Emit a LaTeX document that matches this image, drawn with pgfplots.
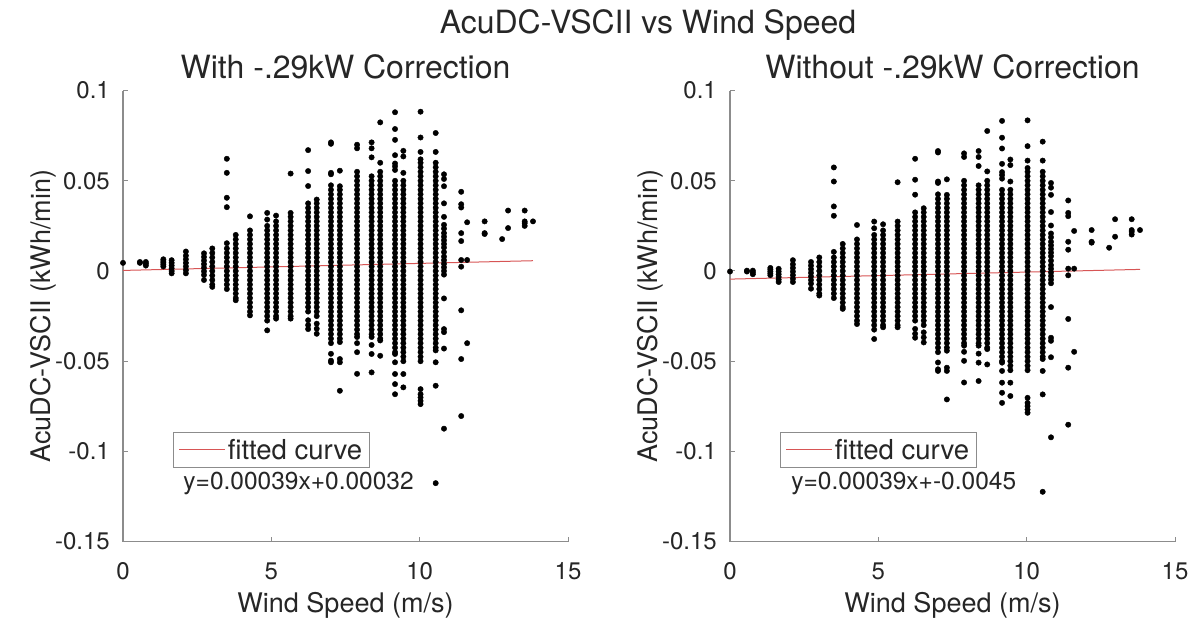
\documentclass[border=0pt]{standalone}
\usepackage{pgfplots}
\pgfplotsset{compat=1.18}
\usepackage{pgfplotstable}
\usepackage{fontspec}
\setmainfont{TeX Gyre Heros}
\definecolor{axgray}{RGB}{140,140,140}
\definecolor{txt}{RGB}{38,38,38}
\definecolor{fitred}{RGB}{215,85,85}

% With -.29kW correction
\pgfplotstableread[row sep=\\]{
x y\\
0 0.0045\\
0.57 0.005\\0.57 0.0045\\
0.77 0.005\\0.77 0.004\\0.77 0.003\\
1.36 0.0065\\1.36 0.0055\\1.36 0.0045\\1.36 0.0035\\1.36 0.0025\\
1.64 0.006\\1.64 0.0045\\1.64 0.003\\1.64 0.0015\\1.64 0\\1.64 -0.0013\\
2.12 0.0108\\2.12 0.0085\\2.12 0.0065\\2.12 0.0045\\2.12 0.0025\\2.12 0.0005\\2.12 -0.0013\\
2.73 0.0098\\2.73 0.0078\\2.73 0.0058\\2.73 0.0038\\2.73 0.0018\\2.73 -0.0002\\2.73 -0.0022\\2.73 -0.005\\
3.01 0.0125\\3.01 0.01\\3.01 0.0075\\3.01 0.005\\3.01 0.0025\\3.01 0\\3.01 -0.0025\\3.01 -0.005\\3.01 -0.0075\\3.01 -0.0088\\
3.5 0.0622\\3.5 0.0544\\3.5 0.0406\\3.5 0.0354\\3.5 0.0154\\3.5 0.0125\\3.5 0.01\\3.5 0.0075\\3.5 0.005\\3.5 0.0025\\3.5 0\\3.5 -0.0025\\3.5 -0.005\\3.5 -0.0075\\3.5 -0.01\\
3.8 0.02\\3.8 0.0175\\3.8 0.015\\3.8 0.0125\\3.8 0.01\\3.8 0.0075\\3.8 0.005\\3.8 0.0025\\3.8 0\\3.8 -0.0025\\3.8 -0.005\\3.8 -0.0075\\3.8 -0.01\\3.8 -0.0125\\3.8 -0.015\\3.8 -0.0162\\
4.28 0.0303\\4.28 0.0225\\4.28 0.02\\4.28 0.0175\\4.28 0.015\\4.28 0.0125\\4.28 0.01\\4.28 0.0075\\4.28 0.005\\4.28 0.0025\\4.28 0\\4.28 -0.0025\\4.28 -0.005\\4.28 -0.0075\\4.28 -0.01\\4.28 -0.0125\\4.28 -0.015\\4.28 -0.0175\\4.28 -0.02\\4.28 -0.0225\\4.28 -0.0246\\
4.86 0.0322\\4.86 0.0285\\4.86 0.025\\4.86 0.0225\\4.86 0.02\\4.86 0.0175\\4.86 0.015\\4.86 0.0125\\4.86 0.01\\4.86 0.0075\\4.86 0.005\\4.86 0.0025\\4.86 0\\4.86 -0.0025\\4.86 -0.005\\4.86 -0.0075\\4.86 -0.01\\4.86 -0.0125\\4.86 -0.015\\4.86 -0.0175\\4.86 -0.02\\4.86 -0.0225\\4.86 -0.025\\4.86 -0.0275\\4.86 -0.0329\\
5.16 0.0307\\5.16 0.0275\\5.16 0.025\\5.16 0.0225\\5.16 0.02\\5.16 0.0175\\5.16 0.015\\5.16 0.0125\\5.16 0.01\\5.16 0.0075\\5.16 0.005\\5.16 0.0025\\5.16 0\\5.16 -0.0025\\5.16 -0.005\\5.16 -0.0075\\5.16 -0.01\\5.16 -0.0125\\5.16 -0.015\\5.16 -0.0175\\5.16 -0.02\\5.16 -0.0225\\5.16 -0.025\\5.16 -0.0264\\
5.65 0.054\\5.65 0.0322\\5.65 0.03\\5.65 0.0275\\5.65 0.025\\5.65 0.0225\\5.65 0.02\\5.65 0.0175\\5.65 0.015\\5.65 0.0125\\5.65 0.01\\5.65 0.0075\\5.65 0.005\\5.65 0.0025\\5.65 0\\5.65 -0.0025\\5.65 -0.005\\5.65 -0.0075\\5.65 -0.01\\5.65 -0.0125\\5.65 -0.015\\5.65 -0.0175\\5.65 -0.02\\5.65 -0.0225\\5.65 -0.025\\5.65 -0.0264\\
6.24 0.067\\6.24 0.0554\\6.24 0.0471\\6.24 0.0375\\6.24 0.035\\6.24 0.0325\\6.24 0.03\\6.24 0.0275\\6.24 0.025\\6.24 0.0225\\6.24 0.02\\6.24 0.0175\\6.24 0.015\\6.24 0.0125\\6.24 0.01\\6.24 0.0075\\6.24 0.005\\6.24 0.0025\\6.24 0\\6.24 -0.0025\\6.24 -0.005\\6.24 -0.0075\\6.24 -0.01\\6.24 -0.0125\\6.24 -0.015\\6.24 -0.0175\\6.24 -0.02\\6.24 -0.0225\\6.24 -0.0273\\6.24 -0.03\\6.24 -0.0322\\
6.53 0.0396\\6.53 0.0375\\6.53 0.035\\6.53 0.0325\\6.53 0.03\\6.53 0.0275\\6.53 0.025\\6.53 0.0225\\6.53 0.02\\6.53 0.0175\\6.53 0.015\\6.53 0.0125\\6.53 0.01\\6.53 0.0075\\6.53 0.005\\6.53 0.0025\\6.53 0\\6.53 -0.0025\\6.53 -0.005\\6.53 -0.0075\\6.53 -0.01\\6.53 -0.0125\\6.53 -0.015\\6.53 -0.0175\\6.53 -0.02\\6.53 -0.0225\\6.53 -0.025\\6.53 -0.0292\\6.53 -0.032\\6.53 -0.0348\\
7.01 0.0713\\7.01 0.0705\\7.01 0.0544\\7.01 0.0536\\7.01 0.0475\\7.01 0.045\\7.01 0.0425\\7.01 0.04\\7.01 0.0375\\7.01 0.035\\7.01 0.0325\\7.01 0.03\\7.01 0.0275\\7.01 0.025\\7.01 0.0225\\7.01 0.02\\7.01 0.0175\\7.01 0.015\\7.01 0.0125\\7.01 0.01\\7.01 0.0075\\7.01 0.005\\7.01 0.0025\\7.01 0\\7.01 -0.0025\\7.01 -0.005\\7.01 -0.0075\\7.01 -0.01\\7.01 -0.0125\\7.01 -0.015\\7.01 -0.0175\\7.01 -0.02\\7.01 -0.0225\\7.01 -0.025\\7.01 -0.0275\\7.01 -0.03\\7.01 -0.0325\\7.01 -0.035\\7.01 -0.0375\\7.01 -0.04\\7.01 -0.0459\\7.01 -0.0497\\7.01 -0.0506\\
7.31 0.0556\\7.31 0.047\\7.31 0.045\\7.31 0.0425\\7.31 0.04\\7.31 0.0375\\7.31 0.035\\7.31 0.0325\\7.31 0.03\\7.31 0.0275\\7.31 0.025\\7.31 0.0225\\7.31 0.02\\7.31 0.0175\\7.31 0.015\\7.31 0.0125\\7.31 0.01\\7.31 0.0075\\7.31 0.005\\7.31 0.0025\\7.31 0\\7.31 -0.0025\\7.31 -0.005\\7.31 -0.0075\\7.31 -0.01\\7.31 -0.0125\\7.31 -0.015\\7.31 -0.0175\\7.31 -0.02\\7.31 -0.0225\\7.31 -0.025\\7.31 -0.0275\\7.31 -0.03\\7.31 -0.0325\\7.31 -0.035\\7.31 -0.0375\\7.31 -0.0394\\7.31 -0.0488\\7.31 -0.0506\\7.31 -0.0664\\
7.89 0.07\\7.89 0.068\\7.89 0.055\\7.89 0.0525\\7.89 0.05\\7.89 0.0475\\7.89 0.045\\7.89 0.0425\\7.89 0.04\\7.89 0.0375\\7.89 0.035\\7.89 0.0325\\7.89 0.03\\7.89 0.0275\\7.89 0.025\\7.89 0.0225\\7.89 0.02\\7.89 0.0175\\7.89 0.015\\7.89 0.0125\\7.89 0.01\\7.89 0.0075\\7.89 0.005\\7.89 0.0025\\7.89 0\\7.89 -0.0025\\7.89 -0.005\\7.89 -0.0075\\7.89 -0.01\\7.89 -0.0125\\7.89 -0.015\\7.89 -0.0175\\7.89 -0.02\\7.89 -0.0225\\7.89 -0.025\\7.89 -0.0275\\7.89 -0.03\\7.89 -0.0325\\7.89 -0.035\\7.89 -0.0366\\7.89 -0.04\\7.89 -0.045\\7.89 -0.057\\
8.38 0.0713\\8.38 0.068\\8.38 0.063\\8.38 0.0525\\8.38 0.05\\8.38 0.0475\\8.38 0.045\\8.38 0.0425\\8.38 0.04\\8.38 0.0375\\8.38 0.035\\8.38 0.0325\\8.38 0.03\\8.38 0.0275\\8.38 0.025\\8.38 0.0225\\8.38 0.02\\8.38 0.0175\\8.38 0.015\\8.38 0.0125\\8.38 0.01\\8.38 0.0075\\8.38 0.005\\8.38 0.0025\\8.38 0\\8.38 -0.0025\\8.38 -0.005\\8.38 -0.0075\\8.38 -0.01\\8.38 -0.0125\\8.38 -0.015\\8.38 -0.0175\\8.38 -0.02\\8.38 -0.0225\\8.38 -0.025\\8.38 -0.0275\\8.38 -0.03\\8.38 -0.0325\\8.38 -0.035\\8.38 -0.0366\\8.38 -0.041\\8.38 -0.046\\8.38 -0.0562\\
8.67 0.0824\\8.67 0.06\\8.67 0.055\\8.67 0.0525\\8.67 0.05\\8.67 0.0475\\8.67 0.045\\8.67 0.0425\\8.67 0.04\\8.67 0.0375\\8.67 0.035\\8.67 0.0325\\8.67 0.03\\8.67 0.0275\\8.67 0.025\\8.67 0.0225\\8.67 0.02\\8.67 0.0175\\8.67 0.015\\8.67 0.0125\\8.67 0.01\\8.67 0.0075\\8.67 0.005\\8.67 0.0025\\8.67 0\\8.67 -0.0025\\8.67 -0.005\\8.67 -0.0075\\8.67 -0.01\\8.67 -0.0125\\8.67 -0.015\\8.67 -0.0175\\8.67 -0.02\\8.67 -0.0225\\8.67 -0.025\\8.67 -0.0275\\8.67 -0.03\\8.67 -0.0325\\8.67 -0.035\\8.67 -0.0375\\8.67 -0.0385\\8.67 -0.047\\
9.17 0.088\\9.17 0.0787\\9.17 0.0727\\9.17 0.0642\\9.17 0.0596\\9.17 0.058\\9.17 0.056\\9.17 0.05\\9.17 0.0475\\9.17 0.045\\9.17 0.0425\\9.17 0.04\\9.17 0.0375\\9.17 0.035\\9.17 0.0325\\9.17 0.03\\9.17 0.0275\\9.17 0.025\\9.17 0.0225\\9.17 0.02\\9.17 0.0175\\9.17 0.015\\9.17 0.0125\\9.17 0.01\\9.17 0.0075\\9.17 0.005\\9.17 0.0025\\9.17 0\\9.17 -0.0025\\9.17 -0.005\\9.17 -0.0075\\9.17 -0.01\\9.17 -0.0125\\9.17 -0.015\\9.17 -0.0175\\9.17 -0.02\\9.17 -0.0225\\9.17 -0.025\\9.17 -0.0275\\9.17 -0.03\\9.17 -0.0325\\9.17 -0.035\\9.17 -0.0375\\9.17 -0.04\\9.17 -0.0425\\9.17 -0.045\\9.17 -0.046\\9.17 -0.0506\\9.17 -0.0571\\9.17 -0.0627\\9.17 -0.0683\\
9.45 0.0666\\9.45 0.0635\\9.45 0.0544\\9.45 0.05\\9.45 0.0475\\9.45 0.045\\9.45 0.0425\\9.45 0.04\\9.45 0.0375\\9.45 0.035\\9.45 0.0325\\9.45 0.03\\9.45 0.0275\\9.45 0.025\\9.45 0.0225\\9.45 0.02\\9.45 0.0175\\9.45 0.015\\9.45 0.0125\\9.45 0.01\\9.45 0.0075\\9.45 0.005\\9.45 0.0025\\9.45 0\\9.45 -0.0025\\9.45 -0.005\\9.45 -0.0075\\9.45 -0.01\\9.45 -0.0125\\9.45 -0.015\\9.45 -0.0175\\9.45 -0.02\\9.45 -0.0225\\9.45 -0.025\\9.45 -0.0275\\9.45 -0.03\\9.45 -0.0325\\9.45 -0.035\\9.45 -0.0375\\9.45 -0.04\\9.45 -0.0425\\9.45 -0.045\\9.45 -0.0475\\9.45 -0.05\\9.45 -0.0571\\9.45 -0.0645\\
10.03 0.0883\\10.03 0.074\\10.03 0.066\\10.03 0.0619\\10.03 0.06\\10.03 0.0575\\10.03 0.055\\10.03 0.0525\\10.03 0.05\\10.03 0.0475\\10.03 0.045\\10.03 0.0425\\10.03 0.04\\10.03 0.0375\\10.03 0.035\\10.03 0.0325\\10.03 0.03\\10.03 0.0275\\10.03 0.025\\10.03 0.0225\\10.03 0.02\\10.03 0.0175\\10.03 0.015\\10.03 0.0125\\10.03 0.01\\10.03 0.0075\\10.03 0.005\\10.03 0.0025\\10.03 0\\10.03 -0.0025\\10.03 -0.005\\10.03 -0.0075\\10.03 -0.01\\10.03 -0.0125\\10.03 -0.015\\10.03 -0.0175\\10.03 -0.02\\10.03 -0.0225\\10.03 -0.025\\10.03 -0.0275\\10.03 -0.03\\10.03 -0.0325\\10.03 -0.035\\10.03 -0.0375\\10.03 -0.04\\10.03 -0.0425\\10.03 -0.045\\10.03 -0.0475\\10.03 -0.05\\10.03 -0.0655\\10.03 -0.0683\\10.03 -0.0701\\10.03 -0.072\\10.03 -0.0738\\
10.54 0.0765\\10.54 0.066\\10.54 0.06\\10.54 0.0575\\10.54 0.055\\10.54 0.0525\\10.54 0.05\\10.54 0.0475\\10.54 0.045\\10.54 0.0425\\10.54 0.04\\10.54 0.0375\\10.54 0.035\\10.54 0.0325\\10.54 0.03\\10.54 0.0275\\10.54 0.025\\10.54 0.0225\\10.54 0.02\\10.54 0.0175\\10.54 0.015\\10.54 0.0125\\10.54 0.01\\10.54 0.0075\\10.54 0.005\\10.54 0.0025\\10.54 0\\10.54 -0.0025\\10.54 -0.005\\10.54 -0.0075\\10.54 -0.01\\10.54 -0.0125\\10.54 -0.015\\10.54 -0.0175\\10.54 -0.02\\10.54 -0.0225\\10.54 -0.025\\10.54 -0.0275\\10.54 -0.03\\10.54 -0.0325\\10.54 -0.035\\10.54 -0.0375\\10.54 -0.04\\10.54 -0.0425\\10.54 -0.044\\10.54 -0.0506\\10.54 -0.0636\\10.54 -0.1176\\
10.82 0.0536\\10.82 0.051\\10.82 0.047\\10.82 0.0375\\10.82 0.03\\10.82 0.0256\\10.82 0.0235\\10.82 0.021\\10.82 0.019\\10.82 0.017\\10.82 0.015\\10.82 0.013\\10.82 0.0105\\10.82 0.008\\10.82 0.006\\10.82 0.004\\10.82 0.002\\10.82 0\\10.82 -0.002\\10.82 -0.0152\\10.82 -0.0322\\10.82 -0.0339\\10.82 -0.043\\10.82 -0.0874\\
11.4 0.0439\\11.4 0.037\\11.4 0.0352\\11.4 0.021\\11.4 0.0166\\11.4 0.0061\\11.4 0.0024\\11.4 -0.0218\\11.4 -0.0488\\11.4 -0.0804\\
11.6 0.027\\11.6 0.0061\\11.6 -0.04\\
12.19 0.0275\\12.19 0.021\\12.19 0.0205\\
12.78 0.0177\\
12.98 0.0335\\12.98 0.0238\\
13.54 0.0335\\13.54 0.0275\\13.54 0.0265\\13.54 0.025\\
13.82 0.0275\\
}\leftdata

% Without -.29kW correction
\pgfplotstableread[row sep=\\]{
x y\\
0 -0.0003\\
0.57 0.0002\\0.57 -0.0003\\
0.77 0.0002\\0.77 -0.0008\\0.77 -0.0018\\
1.36 0.0017\\1.36 0.0007\\1.36 -0.0003\\1.36 -0.0013\\1.36 -0.0023\\
1.64 0.0012\\1.64 -0.0003\\1.64 -0.0018\\1.64 -0.0033\\1.64 -0.0048\\1.64 -0.0061\\
2.12 0.006\\2.12 0.0037\\2.12 0.0017\\2.12 -0.0003\\2.12 -0.0023\\2.12 -0.0043\\2.12 -0.0061\\
2.73 0.005\\2.73 0.003\\2.73 0.001\\2.73 -0.001\\2.73 -0.003\\2.73 -0.005\\2.73 -0.007\\2.73 -0.0098\\
3.01 0.0075\\3.01 0.005\\3.01 0.0025\\3.01 0\\3.01 -0.0025\\3.01 -0.005\\3.01 -0.0075\\3.01 -0.01\\3.01 -0.0125\\3.01 -0.0136\\
3.5 0.0574\\3.5 0.0496\\3.5 0.0358\\3.5 0.0306\\3.5 0.0106\\3.5 0.0075\\3.5 0.005\\3.5 0.0025\\3.5 0\\3.5 -0.0025\\3.5 -0.005\\3.5 -0.0075\\3.5 -0.01\\3.5 -0.0125\\3.5 -0.015\\
3.8 0.015\\3.8 0.0125\\3.8 0.01\\3.8 0.0075\\3.8 0.005\\3.8 0.0025\\3.8 0\\3.8 -0.0025\\3.8 -0.005\\3.8 -0.0075\\3.8 -0.01\\3.8 -0.0125\\3.8 -0.015\\3.8 -0.0175\\3.8 -0.02\\3.8 -0.021\\
4.28 0.0255\\4.28 0.0175\\4.28 0.015\\4.28 0.0125\\4.28 0.01\\4.28 0.0075\\4.28 0.005\\4.28 0.0025\\4.28 0\\4.28 -0.0025\\4.28 -0.005\\4.28 -0.0075\\4.28 -0.01\\4.28 -0.0125\\4.28 -0.015\\4.28 -0.0175\\4.28 -0.02\\4.28 -0.0225\\4.28 -0.025\\4.28 -0.0275\\4.28 -0.0294\\
4.86 0.0274\\4.86 0.0237\\4.86 0.02\\4.86 0.0175\\4.86 0.015\\4.86 0.0125\\4.86 0.01\\4.86 0.0075\\4.86 0.005\\4.86 0.0025\\4.86 0\\4.86 -0.0025\\4.86 -0.005\\4.86 -0.0075\\4.86 -0.01\\4.86 -0.0125\\4.86 -0.015\\4.86 -0.0175\\4.86 -0.02\\4.86 -0.0225\\4.86 -0.025\\4.86 -0.0275\\4.86 -0.03\\4.86 -0.0325\\4.86 -0.0377\\
5.16 0.0259\\5.16 0.0225\\5.16 0.02\\5.16 0.0175\\5.16 0.015\\5.16 0.0125\\5.16 0.01\\5.16 0.0075\\5.16 0.005\\5.16 0.0025\\5.16 0\\5.16 -0.0025\\5.16 -0.005\\5.16 -0.0075\\5.16 -0.01\\5.16 -0.0125\\5.16 -0.015\\5.16 -0.0175\\5.16 -0.02\\5.16 -0.0225\\5.16 -0.025\\5.16 -0.0275\\5.16 -0.03\\5.16 -0.0312\\
5.65 0.0492\\5.65 0.0274\\5.65 0.025\\5.65 0.0225\\5.65 0.02\\5.65 0.0175\\5.65 0.015\\5.65 0.0125\\5.65 0.01\\5.65 0.0075\\5.65 0.005\\5.65 0.0025\\5.65 0\\5.65 -0.0025\\5.65 -0.005\\5.65 -0.0075\\5.65 -0.01\\5.65 -0.0125\\5.65 -0.015\\5.65 -0.0175\\5.65 -0.02\\5.65 -0.0225\\5.65 -0.025\\5.65 -0.0275\\5.65 -0.03\\5.65 -0.0312\\
6.24 0.0622\\6.24 0.0506\\6.24 0.0423\\6.24 0.0325\\6.24 0.03\\6.24 0.0275\\6.24 0.025\\6.24 0.0225\\6.24 0.02\\6.24 0.0175\\6.24 0.015\\6.24 0.0125\\6.24 0.01\\6.24 0.0075\\6.24 0.005\\6.24 0.0025\\6.24 0\\6.24 -0.0025\\6.24 -0.005\\6.24 -0.0075\\6.24 -0.01\\6.24 -0.0125\\6.24 -0.015\\6.24 -0.0175\\6.24 -0.02\\6.24 -0.0225\\6.24 -0.025\\6.24 -0.0275\\6.24 -0.0321\\6.24 -0.0348\\6.24 -0.037\\
6.53 0.0348\\6.53 0.0325\\6.53 0.03\\6.53 0.0275\\6.53 0.025\\6.53 0.0225\\6.53 0.02\\6.53 0.0175\\6.53 0.015\\6.53 0.0125\\6.53 0.01\\6.53 0.0075\\6.53 0.005\\6.53 0.0025\\6.53 0\\6.53 -0.0025\\6.53 -0.005\\6.53 -0.0075\\6.53 -0.01\\6.53 -0.0125\\6.53 -0.015\\6.53 -0.0175\\6.53 -0.02\\6.53 -0.0225\\6.53 -0.025\\6.53 -0.0275\\6.53 -0.03\\6.53 -0.034\\6.53 -0.0368\\6.53 -0.0396\\
7.01 0.0665\\7.01 0.0657\\7.01 0.0496\\7.01 0.0488\\7.01 0.0425\\7.01 0.04\\7.01 0.0375\\7.01 0.035\\7.01 0.0325\\7.01 0.03\\7.01 0.0275\\7.01 0.025\\7.01 0.0225\\7.01 0.02\\7.01 0.0175\\7.01 0.015\\7.01 0.0125\\7.01 0.01\\7.01 0.0075\\7.01 0.005\\7.01 0.0025\\7.01 0\\7.01 -0.0025\\7.01 -0.005\\7.01 -0.0075\\7.01 -0.01\\7.01 -0.0125\\7.01 -0.015\\7.01 -0.0175\\7.01 -0.02\\7.01 -0.0225\\7.01 -0.025\\7.01 -0.0275\\7.01 -0.03\\7.01 -0.0325\\7.01 -0.035\\7.01 -0.0375\\7.01 -0.04\\7.01 -0.0425\\7.01 -0.045\\7.01 -0.0507\\7.01 -0.0545\\7.01 -0.0554\\
7.31 0.0508\\7.31 0.0422\\7.31 0.04\\7.31 0.0375\\7.31 0.035\\7.31 0.0325\\7.31 0.03\\7.31 0.0275\\7.31 0.025\\7.31 0.0225\\7.31 0.02\\7.31 0.0175\\7.31 0.015\\7.31 0.0125\\7.31 0.01\\7.31 0.0075\\7.31 0.005\\7.31 0.0025\\7.31 0\\7.31 -0.0025\\7.31 -0.005\\7.31 -0.0075\\7.31 -0.01\\7.31 -0.0125\\7.31 -0.015\\7.31 -0.0175\\7.31 -0.02\\7.31 -0.0225\\7.31 -0.025\\7.31 -0.0275\\7.31 -0.03\\7.31 -0.0325\\7.31 -0.035\\7.31 -0.0375\\7.31 -0.04\\7.31 -0.0425\\7.31 -0.0442\\7.31 -0.0536\\7.31 -0.0554\\7.31 -0.0712\\
7.89 0.0652\\7.89 0.0632\\7.89 0.05\\7.89 0.0475\\7.89 0.045\\7.89 0.0425\\7.89 0.04\\7.89 0.0375\\7.89 0.035\\7.89 0.0325\\7.89 0.03\\7.89 0.0275\\7.89 0.025\\7.89 0.0225\\7.89 0.02\\7.89 0.0175\\7.89 0.015\\7.89 0.0125\\7.89 0.01\\7.89 0.0075\\7.89 0.005\\7.89 0.0025\\7.89 0\\7.89 -0.0025\\7.89 -0.005\\7.89 -0.0075\\7.89 -0.01\\7.89 -0.0125\\7.89 -0.015\\7.89 -0.0175\\7.89 -0.02\\7.89 -0.0225\\7.89 -0.025\\7.89 -0.0275\\7.89 -0.03\\7.89 -0.0325\\7.89 -0.035\\7.89 -0.0375\\7.89 -0.04\\7.89 -0.0414\\7.89 -0.0448\\7.89 -0.0498\\7.89 -0.0618\\
8.38 0.0665\\8.38 0.0632\\8.38 0.0582\\8.38 0.0475\\8.38 0.045\\8.38 0.0425\\8.38 0.04\\8.38 0.0375\\8.38 0.035\\8.38 0.0325\\8.38 0.03\\8.38 0.0275\\8.38 0.025\\8.38 0.0225\\8.38 0.02\\8.38 0.0175\\8.38 0.015\\8.38 0.0125\\8.38 0.01\\8.38 0.0075\\8.38 0.005\\8.38 0.0025\\8.38 0\\8.38 -0.0025\\8.38 -0.005\\8.38 -0.0075\\8.38 -0.01\\8.38 -0.0125\\8.38 -0.015\\8.38 -0.0175\\8.38 -0.02\\8.38 -0.0225\\8.38 -0.025\\8.38 -0.0275\\8.38 -0.03\\8.38 -0.0325\\8.38 -0.035\\8.38 -0.0375\\8.38 -0.04\\8.38 -0.0414\\8.38 -0.0458\\8.38 -0.0508\\8.38 -0.061\\
8.67 0.0776\\8.67 0.0552\\8.67 0.05\\8.67 0.0475\\8.67 0.045\\8.67 0.0425\\8.67 0.04\\8.67 0.0375\\8.67 0.035\\8.67 0.0325\\8.67 0.03\\8.67 0.0275\\8.67 0.025\\8.67 0.0225\\8.67 0.02\\8.67 0.0175\\8.67 0.015\\8.67 0.0125\\8.67 0.01\\8.67 0.0075\\8.67 0.005\\8.67 0.0025\\8.67 0\\8.67 -0.0025\\8.67 -0.005\\8.67 -0.0075\\8.67 -0.01\\8.67 -0.0125\\8.67 -0.015\\8.67 -0.0175\\8.67 -0.02\\8.67 -0.0225\\8.67 -0.025\\8.67 -0.0275\\8.67 -0.03\\8.67 -0.0325\\8.67 -0.035\\8.67 -0.0375\\8.67 -0.04\\8.67 -0.0425\\8.67 -0.0433\\8.67 -0.0518\\
9.17 0.0832\\9.17 0.0739\\9.17 0.0679\\9.17 0.0594\\9.17 0.0548\\9.17 0.0532\\9.17 0.0512\\9.17 0.045\\9.17 0.0425\\9.17 0.04\\9.17 0.0375\\9.17 0.035\\9.17 0.0325\\9.17 0.03\\9.17 0.0275\\9.17 0.025\\9.17 0.0225\\9.17 0.02\\9.17 0.0175\\9.17 0.015\\9.17 0.0125\\9.17 0.01\\9.17 0.0075\\9.17 0.005\\9.17 0.0025\\9.17 0\\9.17 -0.0025\\9.17 -0.005\\9.17 -0.0075\\9.17 -0.01\\9.17 -0.0125\\9.17 -0.015\\9.17 -0.0175\\9.17 -0.02\\9.17 -0.0225\\9.17 -0.025\\9.17 -0.0275\\9.17 -0.03\\9.17 -0.0325\\9.17 -0.035\\9.17 -0.0375\\9.17 -0.04\\9.17 -0.0425\\9.17 -0.045\\9.17 -0.0475\\9.17 -0.05\\9.17 -0.0508\\9.17 -0.0554\\9.17 -0.0619\\9.17 -0.0675\\9.17 -0.0731\\
9.45 0.0618\\9.45 0.0587\\9.45 0.0496\\9.45 0.045\\9.45 0.0425\\9.45 0.04\\9.45 0.0375\\9.45 0.035\\9.45 0.0325\\9.45 0.03\\9.45 0.0275\\9.45 0.025\\9.45 0.0225\\9.45 0.02\\9.45 0.0175\\9.45 0.015\\9.45 0.0125\\9.45 0.01\\9.45 0.0075\\9.45 0.005\\9.45 0.0025\\9.45 0\\9.45 -0.0025\\9.45 -0.005\\9.45 -0.0075\\9.45 -0.01\\9.45 -0.0125\\9.45 -0.015\\9.45 -0.0175\\9.45 -0.02\\9.45 -0.0225\\9.45 -0.025\\9.45 -0.0275\\9.45 -0.03\\9.45 -0.0325\\9.45 -0.035\\9.45 -0.0375\\9.45 -0.04\\9.45 -0.0425\\9.45 -0.045\\9.45 -0.0475\\9.45 -0.05\\9.45 -0.0525\\9.45 -0.055\\9.45 -0.0619\\9.45 -0.0693\\
10.03 0.0835\\10.03 0.0692\\10.03 0.0612\\10.03 0.0571\\10.03 0.055\\10.03 0.0525\\10.03 0.05\\10.03 0.0475\\10.03 0.045\\10.03 0.0425\\10.03 0.04\\10.03 0.0375\\10.03 0.035\\10.03 0.0325\\10.03 0.03\\10.03 0.0275\\10.03 0.025\\10.03 0.0225\\10.03 0.02\\10.03 0.0175\\10.03 0.015\\10.03 0.0125\\10.03 0.01\\10.03 0.0075\\10.03 0.005\\10.03 0.0025\\10.03 0\\10.03 -0.0025\\10.03 -0.005\\10.03 -0.0075\\10.03 -0.01\\10.03 -0.0125\\10.03 -0.015\\10.03 -0.0175\\10.03 -0.02\\10.03 -0.0225\\10.03 -0.025\\10.03 -0.0275\\10.03 -0.03\\10.03 -0.0325\\10.03 -0.035\\10.03 -0.0375\\10.03 -0.04\\10.03 -0.0425\\10.03 -0.045\\10.03 -0.0475\\10.03 -0.05\\10.03 -0.0525\\10.03 -0.055\\10.03 -0.0703\\10.03 -0.0731\\10.03 -0.0749\\10.03 -0.0768\\10.03 -0.0786\\
10.54 0.0717\\10.54 0.0612\\10.54 0.055\\10.54 0.0525\\10.54 0.05\\10.54 0.0475\\10.54 0.045\\10.54 0.0425\\10.54 0.04\\10.54 0.0375\\10.54 0.035\\10.54 0.0325\\10.54 0.03\\10.54 0.0275\\10.54 0.025\\10.54 0.0225\\10.54 0.02\\10.54 0.0175\\10.54 0.015\\10.54 0.0125\\10.54 0.01\\10.54 0.0075\\10.54 0.005\\10.54 0.0025\\10.54 0\\10.54 -0.0025\\10.54 -0.005\\10.54 -0.0075\\10.54 -0.01\\10.54 -0.0125\\10.54 -0.015\\10.54 -0.0175\\10.54 -0.02\\10.54 -0.0225\\10.54 -0.025\\10.54 -0.0275\\10.54 -0.03\\10.54 -0.0325\\10.54 -0.035\\10.54 -0.0375\\10.54 -0.04\\10.54 -0.0425\\10.54 -0.045\\10.54 -0.0475\\10.54 -0.0488\\10.54 -0.0554\\10.54 -0.0684\\10.54 -0.1224\\
10.82 0.0488\\10.82 0.0462\\10.82 0.0422\\10.82 0.0327\\10.82 0.0252\\10.82 0.0208\\10.82 0.0187\\10.82 0.0162\\10.82 0.0142\\10.82 0.0122\\10.82 0.0102\\10.82 0.0082\\10.82 0.0057\\10.82 0.0032\\10.82 0.0012\\10.82 -0.0008\\10.82 -0.0028\\10.82 -0.0048\\10.82 -0.0068\\10.82 -0.02\\10.82 -0.037\\10.82 -0.0387\\10.82 -0.0478\\10.82 -0.0922\\
11.4 0.0391\\11.4 0.0322\\11.4 0.0304\\11.4 0.0162\\11.4 0.0118\\11.4 0.0013\\11.4 -0.0024\\11.4 -0.0266\\11.4 -0.0536\\11.4 -0.0852\\
11.6 0.0222\\11.6 0.0013\\11.6 -0.0448\\
12.19 0.0227\\12.19 0.0162\\12.19 0.0157\\
12.78 0.0129\\
12.98 0.0287\\12.98 0.019\\
13.54 0.0287\\13.54 0.0227\\13.54 0.0217\\13.54 0.0202\\
13.82 0.0227\\
}\rightdata

\pgfplotsset{
  myax/.style={
    scale only axis, width=445pt, height=451pt,
    xmin=0, xmax=15, ymin=-0.15, ymax=0.1,
    axis lines=left, axis line style={axgray, line width=1.1pt, -},
    xtick={0,5,10,15}, xticklabels={0,5,10,15},
    ytick={-0.15,-0.1,-0.05,0,0.05,0.1},
    yticklabels={-0.15,-0.1,-0.05,0,0.05,0.1},
    tick align=inside, major tick length=5pt,
    tick style={axgray, line width=1pt},
    ticklabel style={font=\fontsize{24}{24}\selectfont, text=txt},
    xticklabel style={anchor=base, yshift=-38pt},
    yticklabel style={anchor=east, inner sep=0pt, xshift=-13pt},
    xlabel={Wind Speed (m/s)}, ylabel={AcuDC-VSCII (kWh/min)},
    label style={font=\fontsize{27}{27}\selectfont, text=txt},
    xlabel style={at={(axis description cs:0.5,0)}, anchor=base, yshift=-71pt},
    ylabel style={at={(axis description cs:-0.164,0.5)}, anchor=base},
    title style={at={(axis description cs:0.5,1)}, anchor=base, yshift=6pt,
      font=\fontsize{32}{32}\selectfont, text=txt},
    legend style={at={(axis description cs:0.113,0.244)}, anchor=north west,
      draw=axgray, line width=1pt, font=\fontsize{27.5}{27.5}\selectfont,
      text=txt, inner xsep=5pt, inner ysep=5pt, fill=white},
    legend image code/.code={\draw[#1, draw=fitred] (0pt,0pt) -- (46pt,0pt);},
    clip=false,
  },
  dots/.style={only marks, mark=*, mark size=2.7pt, black, forget plot},
  fit/.style={draw=fitred, color=fitred, line width=1pt, no marks},
}

\begin{document}
\begin{tikzpicture}
\path[use as bounding box] (0,0) rectangle (1199pt,624pt);

\begin{axis}[myax, at={(123pt,82.4pt)}, anchor=south west,
  title={With -.29kW Correction}]
  \addplot[dots] table[x=x, y=y] {\leftdata};
  \addplot[fit] coordinates {(0,0.00032) (13.82,0.0057)};
  \addlegendentry{fitted curve}
  \node[anchor=base west, font=\fontsize{24.5}{24.5}\selectfont, text=txt]
    at (rel axis cs:0.128,0.115) {y=0.00039x+0.00032};
\end{axis}

\begin{axis}[myax, at={(730pt,82.4pt)}, anchor=south west,
  title={Without -.29kW Correction}]
  \addplot[dots] table[x=x, y=y] {\rightdata};
  \addplot[fit] coordinates {(0,-0.0045) (13.82,0.00089)};
  \addlegendentry{fitted curve}
  \node[anchor=base west, font=\fontsize{24.5}{24.5}\selectfont, text=txt]
    at (rel axis cs:0.130,0.115) {y=0.00039x+-0.0045};
\end{axis}

\node[anchor=base, font=\fontsize{32}{32}\selectfont, text=txt]
  at (648pt,590.7pt) {AcuDC-VSCII vs Wind Speed};
\end{tikzpicture}
\end{document}
